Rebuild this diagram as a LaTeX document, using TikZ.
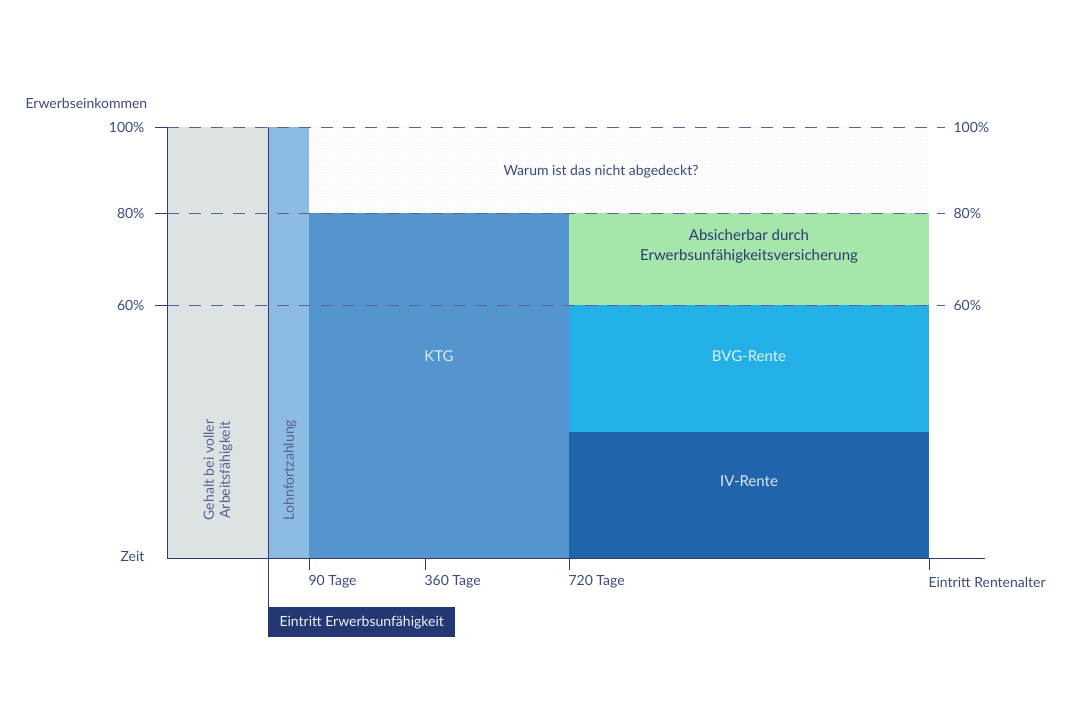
\documentclass[tikz,border=0pt]{standalone}
\usepackage{fontspec}
\setmainfont{Lato}
\usetikzlibrary{patterns}
\definecolor{txt}{HTML}{3D4A7E}
\definecolor{ax}{HTML}{2E3A74}
\definecolor{gr}{HTML}{DDE3E3}
\definecolor{lb}{HTML}{8DBCE3}
\definecolor{ktg}{HTML}{5494CF}
\definecolor{grn}{HTML}{A5E6AA}
\definecolor{bvg}{HTML}{22B0E6}
\definecolor{iv}{HTML}{2064AC}
\definecolor{dk}{HTML}{233873}
\begin{document}
\begin{tikzpicture}[x=1pt,y=-1pt,
  lab/.style={font=\fontsize{14}{16}\selectfont,text=txt},
  gridline/.style={draw=ax!80,dash pattern=on 12pt off 10pt,line width=0.8pt},
  axis/.style={draw=ax,line width=0.9pt}]
\useasboundingbox (0,0) rectangle (1080,710);
\fill[gr] (167,127) rectangle (268,558);
\fill[lb] (268,127) rectangle (309,558);
\fill[pattern=dots,pattern color=gray!35] (309,127) rectangle (929,213);
\fill[ktg] (309,213) rectangle (569,558);
\fill[grn] (569,213) rectangle (929,305);
\fill[bvg] (569,305) rectangle (929,432);
\fill[iv] (569,432) rectangle (929,558);
\foreach \y in {127,213,305} \draw[gridline] (167,\y) -- (945,\y);
\draw[axis] (155,127) -- (167,127);
\draw[axis] (155,213) -- (167,213);
\draw[axis] (155,305) -- (167,305);
\draw[axis] (167,127) -- (167,558) -- (985,558);
\draw[axis] (268,127) -- (268,637);
\foreach \x in {309,425,569,929} \draw[axis] (\x,558) -- (\x,570);
\node[lab,anchor=west] (t0) at (22,103) {Erwerbseinkommen};
\node[lab,anchor=east] (l100) at (148,127) {100\%};
\node[lab,anchor=east] (l80) at (148,213) {80\%};
\node[lab,anchor=east] (l60) at (148,305) {60\%};
\node[lab,anchor=east] (lz) at (148,556) {Zeit};
\node[lab,anchor=west] (r100) at (950,127) {100\%};
\node[lab,anchor=west] (r80) at (950,213) {80\%};
\node[lab,anchor=west] (r60) at (950,305) {60\%};
\node[lab,anchor=west] (x1) at (305,582) {90 Tage};
\node[lab,anchor=west] (x2) at (421,582) {360 Tage};
\node[lab,anchor=west] (x3) at (565,582) {720 Tage};
\node[lab,anchor=west] (x4) at (925,582) {Eintritt Rentenalter};
\node[lab,fill=dk,text=white!85!lb,anchor=north west,minimum width=187pt,minimum height=30pt,inner sep=0pt] (ee) at (268,607) {Eintritt Erwerbsunfähigkeit};
\node[lab] (w) at (601,172) {Warum ist das nicht abgedeckt?};
\node[lab,align=center,text=ax,font=\fontsize{15}{20}\selectfont] (a) at (749,246) {Absicherbar durch\\Erwerbsunfähigkeitsversicherung};
\node[lab,text=white!80!ktg,font=\fontsize{15}{18}\selectfont] (k) at (439,356) {KTG};
\node[lab,text=white!85!bvg,font=\fontsize{15}{18}\selectfont] (b) at (749,356) {BVG-Rente};
\node[lab,text=white!85!iv,font=\fontsize{15}{18}\selectfont] (i) at (749,481) {IV-Rente};
\node[lab,rotate=90,align=center,text=ax!80] (g) at (218,470) {Gehalt bei voller\\Arbeitsfähigkeit};
\node[lab,rotate=90,text=ax!80] (lf) at (290,470) {Lohnfortzahlung};
\end{tikzpicture}
\end{document}
